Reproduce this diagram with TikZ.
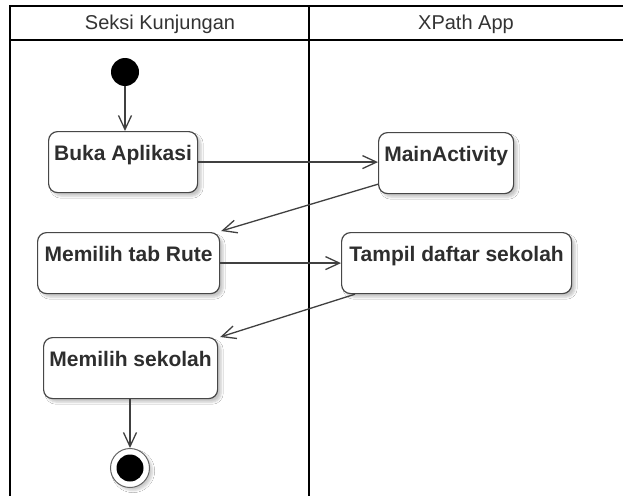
\documentclass[tikz,border=0pt]{standalone}
\usepackage{fontspec}
\setmainfont{Liberation Sans}
\usetikzlibrary{arrows.meta,shadows.blur,calc}
\begin{document}
\begin{tikzpicture}[x=1pt,y=-1pt,
  laneline/.style={draw=black,line width=1.8pt},
  lanetitle/.style={font=\fontsize{20}{24}\selectfont,text=black!80,inner sep=0pt},
  act/.style={draw=black!72,line width=1.2pt,rounded corners=9pt,fill=white,
    anchor=north west,inner xsep=0pt,inner ysep=0pt,
    text height=29pt,text depth=32pt,
    font=\bfseries\fontsize{21}{24}\selectfont,text=black!82,
    blur shadow={shadow xshift=3.5pt,shadow yshift=-3.5pt,shadow blur steps=6,shadow opacity=22}},
  flow/.style={draw=black!75,line width=1.3pt,-{Straight Barb[length=14pt,width=13pt,line width=1.3pt]}},
  startdot/.style={circle,fill=black,minimum size=28pt,inner sep=0pt},
  endring/.style={circle,draw=black!60,line width=1pt,fill=white,minimum size=39pt,inner sep=0pt,
    blur shadow={shadow xshift=3pt,shadow yshift=-3pt,shadow blur steps=5,shadow opacity=20}},
  enddot/.style={circle,fill=black,minimum size=27pt,inner sep=0pt}]

\useasboundingbox (0,0) rectangle (623,495);
\clip (0,0) rectangle (623,495);
\fill[white] (0,0) rectangle (623,495);

% swimlane frame (the right edge runs past the page)
\draw[laneline] (10,500) -- (10,6) -- (630,6);
\draw[laneline] (10,40) -- (630,40);
\draw[laneline] (309,6) -- (309,500);

\node[lanetitle] (lane1) at (160,24) {Seksi Kunjungan};
\node[lanetitle] (lane2) at (466,24) {XPath App};

% start and end
\node[startdot] (start) at (125,72) {};
\node[endring] (endo) at (130,468) {};
\node[enddot] (endi) at (130,468) {};

% activities
\node[act,minimum width=149pt] (buka) at (48,131) {Buka Aplikasi};
\node[act,minimum width=135pt] (main) at (378,132) {MainActivity};
\node[act,minimum width=182pt] (rute) at (37,232) {Memilih tab Rute};
\node[act,minimum width=230pt] (tampil) at (341,232) {Tampil daftar sekolah};
\node[act,minimum width=174pt] (sekolah) at (43,337) {Memilih sekolah};

% control flow
\draw[flow] (start) -- (buka.north -| start);
\draw[flow] (buka.east) -- (buka.east -| main.west);
\draw[flow] ($(main.south west)+(0,-10)$) -- ($(rute.north east)+(1,-1)$);
\draw[flow] (rute.east) -- (rute.east -| tampil.west);
\draw[flow] ($(tampil.south west)+(14,0)$) -- ($(sekolah.north east)+(2,0)$);
\draw[flow] (sekolah.south -| endo) -- (endo.north);
\end{tikzpicture}
\end{document}
